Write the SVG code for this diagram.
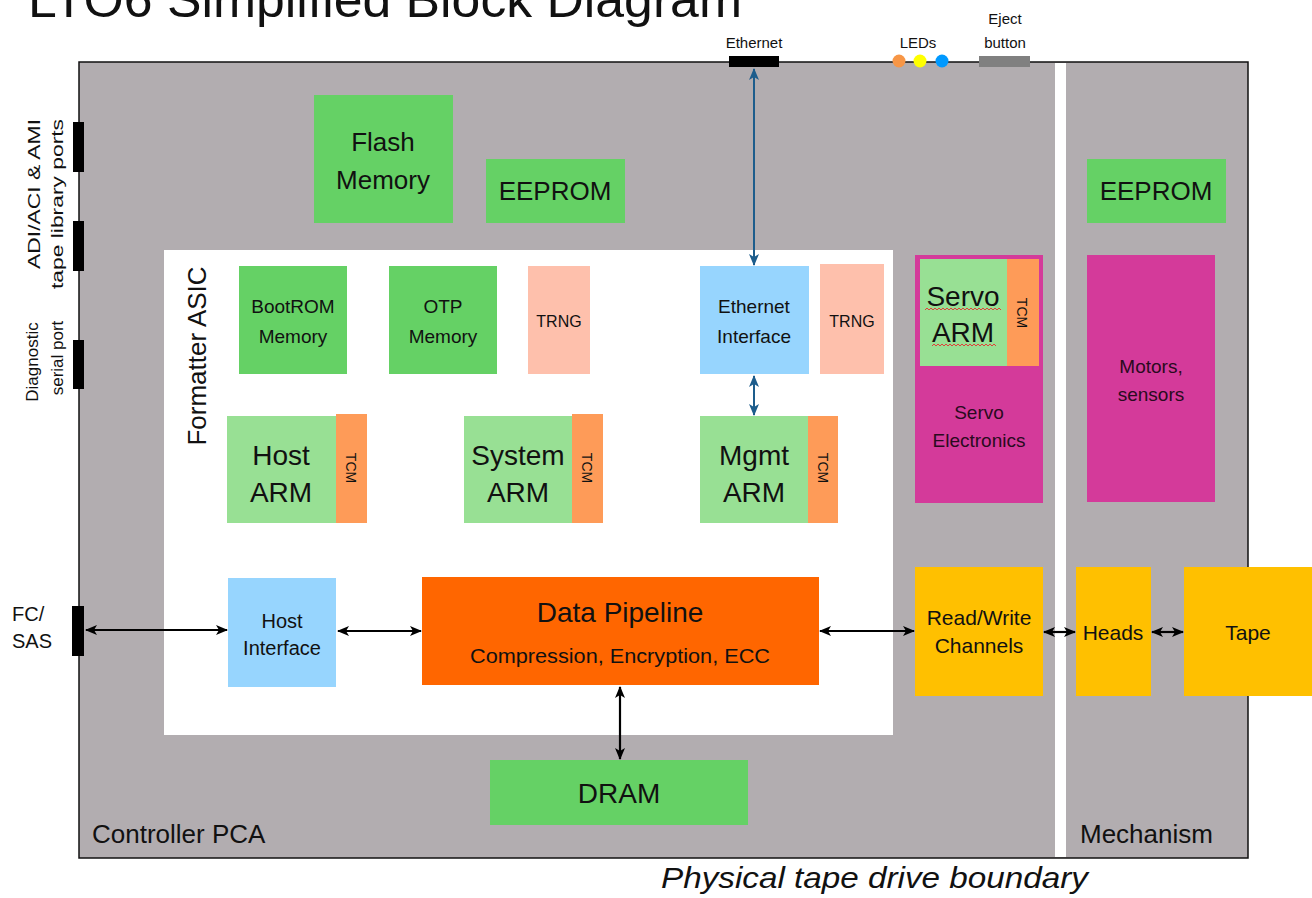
<svg xmlns="http://www.w3.org/2000/svg" width="1312" height="898" viewBox="0 0 1312 898">
<defs>
<marker id="ab" markerUnits="userSpaceOnUse" markerWidth="12" markerHeight="12" viewBox="0 0 12 12" refX="11" refY="6" orient="auto-start-reverse"><path d="M0,1 L12,6 L0,11 L3,6 z" fill="#000"/></marker>
<marker id="au" markerUnits="userSpaceOnUse" markerWidth="12" markerHeight="12" viewBox="0 0 12 12" refX="11" refY="6" orient="auto-start-reverse"><path d="M0,1 L12,6 L0,11 L3,6 z" fill="#1d5d8c"/></marker>
</defs>
<style>
text{font-family:"Liberation Sans",Arial,sans-serif;fill:#111;}
.c{text-anchor:middle;}
.g{fill:#65d165;}
.lg{fill:#98e094;}
.tcm{fill:#fe9b58;}
.trng{fill:#fec0ac;}
.blu{fill:#97d5fe;}
.mag{fill:#d43a9a;}
.yel{fill:#ffc000;}
.bk{stroke:#000;stroke-width:2.2;fill:none;marker-start:url(#ab);marker-end:url(#ab);}
.bu{stroke:#1d5d8c;stroke-width:2;fill:none;marker-start:url(#au);marker-end:url(#au);}
.f28{font-size:28px;}
.f26{font-size:26px;}
.f20{font-size:20px;}
.f19{font-size:19px;}
.f17{font-size:17px;}
.f14{font-size:14px;}
.dk{fill:#2a0a20;}
</style>
<rect width="1312" height="898" fill="#fff"/>
<text x="28" y="17" font-size="50" textLength="714" lengthAdjust="spacingAndGlyphs">LTO6 Simplified Block Diagram</text>

<g id="boundary">
<rect x="79" y="62" width="1169" height="796" fill="#b2adb0" stroke="#111" stroke-width="1.5"/>
<rect x="1055" y="63" width="11" height="794" fill="#fff"/>
<text x="92" y="843" class="f26">Controller PCA</text>
<text x="1080" y="843" class="f26">Mechanism</text>
<text x="661" y="888" font-size="30" font-style="italic" textLength="427" lengthAdjust="spacingAndGlyphs">Physical tape drive boundary</text>
</g>

<g id="ports">
<rect x="73" y="122" width="11" height="50" fill="#000"/>
<rect x="73" y="221" width="11" height="50" fill="#000"/>
<rect x="73" y="340" width="11" height="49" fill="#000"/>
<rect x="72" y="606" width="12" height="50" fill="#000"/>
<text transform="translate(40,194) rotate(-90)" class="c f17" textLength="150" lengthAdjust="spacingAndGlyphs">ADI/ACI &amp; AMI</text>
<text transform="translate(63,204) rotate(-90)" class="c f17" textLength="170" lengthAdjust="spacingAndGlyphs">tape library ports</text>
<text transform="translate(38,362) rotate(-90)" class="c f17">Diagnostic</text>
<text transform="translate(63,358) rotate(-90)" class="c f17">serial port</text>
<text x="12" y="621" class="f20">FC/</text>
<text x="12" y="648" class="f20">SAS</text>
<rect x="729" y="56" width="50" height="11" fill="#000"/>
<text x="754" y="48" class="c" font-size="15">Ethernet</text>
<circle cx="899" cy="61" r="6.5" fill="#f79646"/>
<circle cx="920" cy="61" r="6.5" fill="#ffff00"/>
<circle cx="942" cy="61" r="6.5" fill="#0099ff"/>
<text x="918" y="48" class="c" font-size="15">LEDs</text>
<rect x="979" y="56" width="51" height="11" fill="#808080"/>
<text x="1005" y="24" class="c" font-size="15">Eject</text>
<text x="1005" y="48" class="c" font-size="15">button</text>
</g>

<g id="flash"><rect x="314" y="95" width="139" height="128" class="g"/><text x="383" y="151" class="c f26">Flash</text><text x="383" y="189" class="c f26">Memory</text></g>
<g id="eeprom1"><rect x="486" y="159" width="139" height="64" class="g"/><text x="555" y="200" class="c f26">EEPROM</text></g>
<g id="eeprom2"><rect x="1087" y="159" width="139" height="64" class="g"/><text x="1156" y="200" class="c f26">EEPROM</text></g>

<g id="asic">
<rect x="164" y="250" width="729" height="485" fill="#fff"/>
<text transform="translate(206,356) rotate(-90)" class="c f26">Formatter ASIC</text>
</g>

<g id="bootrom"><rect x="239" y="266" width="108" height="108" class="g"/><text x="293" y="313" class="c f19">BootROM</text><text x="293" y="343" class="c f19">Memory</text></g>
<g id="otp"><rect x="389" y="266" width="108" height="108" class="g"/><text x="443" y="313" class="c f19">OTP</text><text x="443" y="343" class="c f19">Memory</text></g>
<g id="trng1"><rect x="528" y="266" width="62" height="108" class="trng"/><text x="559" y="327" class="c" font-size="16">TRNG</text></g>
<g id="ethif"><rect x="700" y="266" width="109" height="108" class="blu"/><text x="754" y="313" class="c f19">Ethernet</text><text x="754" y="343" class="c f19">Interface</text></g>
<g id="trng2"><rect x="820" y="264" width="64" height="110" class="trng"/><text x="852" y="327" class="c" font-size="16">TRNG</text></g>

<g id="hostarm"><rect x="227" y="416" width="109" height="107" class="lg"/><rect x="336" y="414" width="31" height="109" class="tcm"/><text x="281" y="465" class="c f28">Host</text><text x="281" y="502" class="c f28">ARM</text><text transform="translate(346,468) rotate(90)" class="c f14">TCM</text></g>
<g id="sysarm"><rect x="464" y="416" width="108" height="107" class="lg"/><rect x="572" y="414" width="31" height="109" class="tcm"/><text x="518" y="465" class="c f28">System</text><text x="518" y="502" class="c f28">ARM</text><text transform="translate(582,468) rotate(90)" class="c f14">TCM</text></g>
<g id="mgmtarm"><rect x="700" y="416" width="108" height="107" class="lg"/><rect x="808" y="416" width="30" height="107" class="tcm"/><text x="754" y="465" class="c f28">Mgmt</text><text x="754" y="502" class="c f28">ARM</text><text transform="translate(818,468) rotate(90)" class="c f14">TCM</text></g>

<g id="servo">
<rect x="915" y="255" width="128" height="248" class="mag"/>
<rect x="920" y="259" width="87" height="107" class="lg"/>
<rect x="1007" y="259" width="32" height="107" class="tcm"/>
<text x="963" y="306" class="c f28">Servo</text>
<text x="963" y="342" class="c f28">ARM</text>
<path d="M925,310 l2,-2 l2,2 l2,-2 l2,2 l2,-2 l2,2 l2,-2 l2,2 l2,-2 l2,2 l2,-2 l2,2 l2,-2 l2,2 l2,-2 l2,2 l2,-2 l2,2 l2,-2 l2,2 l2,-2 l2,2 l2,-2 l2,2 l2,-2 l2,2 l2,-2 l2,2 l2,-2 l2,2 l2,-2 l2,2 l2,-2 l2,2 l2,-2 l2,2 l2,-2 l2,2" fill="none" stroke="#e0403a" stroke-width="1"/>
<path d="M932,346 l2,-2 l2,2 l2,-2 l2,2 l2,-2 l2,2 l2,-2 l2,2 l2,-2 l2,2 l2,-2 l2,2 l2,-2 l2,2 l2,-2 l2,2 l2,-2 l2,2 l2,-2 l2,2 l2,-2 l2,2 l2,-2 l2,2 l2,-2 l2,2 l2,-2 l2,2 l2,-2 l2,2 l2,-2 l2,2" fill="none" stroke="#e0403a" stroke-width="1"/>
<text transform="translate(1017,313) rotate(90)" class="c f14">TCM</text>
<text x="979" y="419" class="c f19 dk">Servo</text>
<text x="979" y="447" class="c f19 dk">Electronics</text>
</g>
<g id="motors"><rect x="1087" y="255" width="128" height="247" class="mag"/><text x="1151" y="373" class="c f19 dk">Motors,</text><text x="1151" y="401" class="c f19 dk">sensors</text></g>

<g id="hostif"><rect x="228" y="578" width="108" height="109" class="blu"/><text x="282" y="628" class="c f20">Host</text><text x="282" y="655" class="c f20">Interface</text></g>
<g id="pipeline"><rect x="422" y="577" width="397" height="108" fill="#ff6600"/><text x="620" y="622" class="c f28">Data Pipeline</text><text x="620" y="663" class="c f20" textLength="300" lengthAdjust="spacingAndGlyphs">Compression, Encryption, ECC</text></g>
<g id="dram"><rect x="490" y="760" width="258" height="65" class="g"/><text x="619" y="803" class="c f28">DRAM</text></g>
<g id="rw"><rect x="915" y="567" width="128" height="129" class="yel"/><text x="979" y="625" class="c" font-size="21">Read/Write</text><text x="979" y="653" class="c" font-size="21">Channels</text></g>
<g id="heads"><rect x="1076" y="567" width="75" height="129" class="yel"/><text x="1113" y="640" class="c" font-size="21">Heads</text></g>
<g id="tape"><rect x="1184" y="567" width="128" height="129" class="yel"/><text x="1248" y="640" class="c" font-size="21">Tape</text></g>

<g id="connectors">
<line x1="754" y1="69" x2="754" y2="265" class="bu"/>
<line x1="754" y1="376" x2="754" y2="415" class="bu"/>
<line x1="86" y1="630" x2="227" y2="630" class="bk"/>
<line x1="338" y1="631" x2="421" y2="631" class="bk"/>
<line x1="820" y1="631" x2="914" y2="631" class="bk"/>
<line x1="1044" y1="632" x2="1075" y2="632" class="bk"/>
<line x1="1152" y1="632" x2="1183" y2="632" class="bk"/>
<line x1="620" y1="687" x2="620" y2="759" class="bk"/>
</g>
</svg>
